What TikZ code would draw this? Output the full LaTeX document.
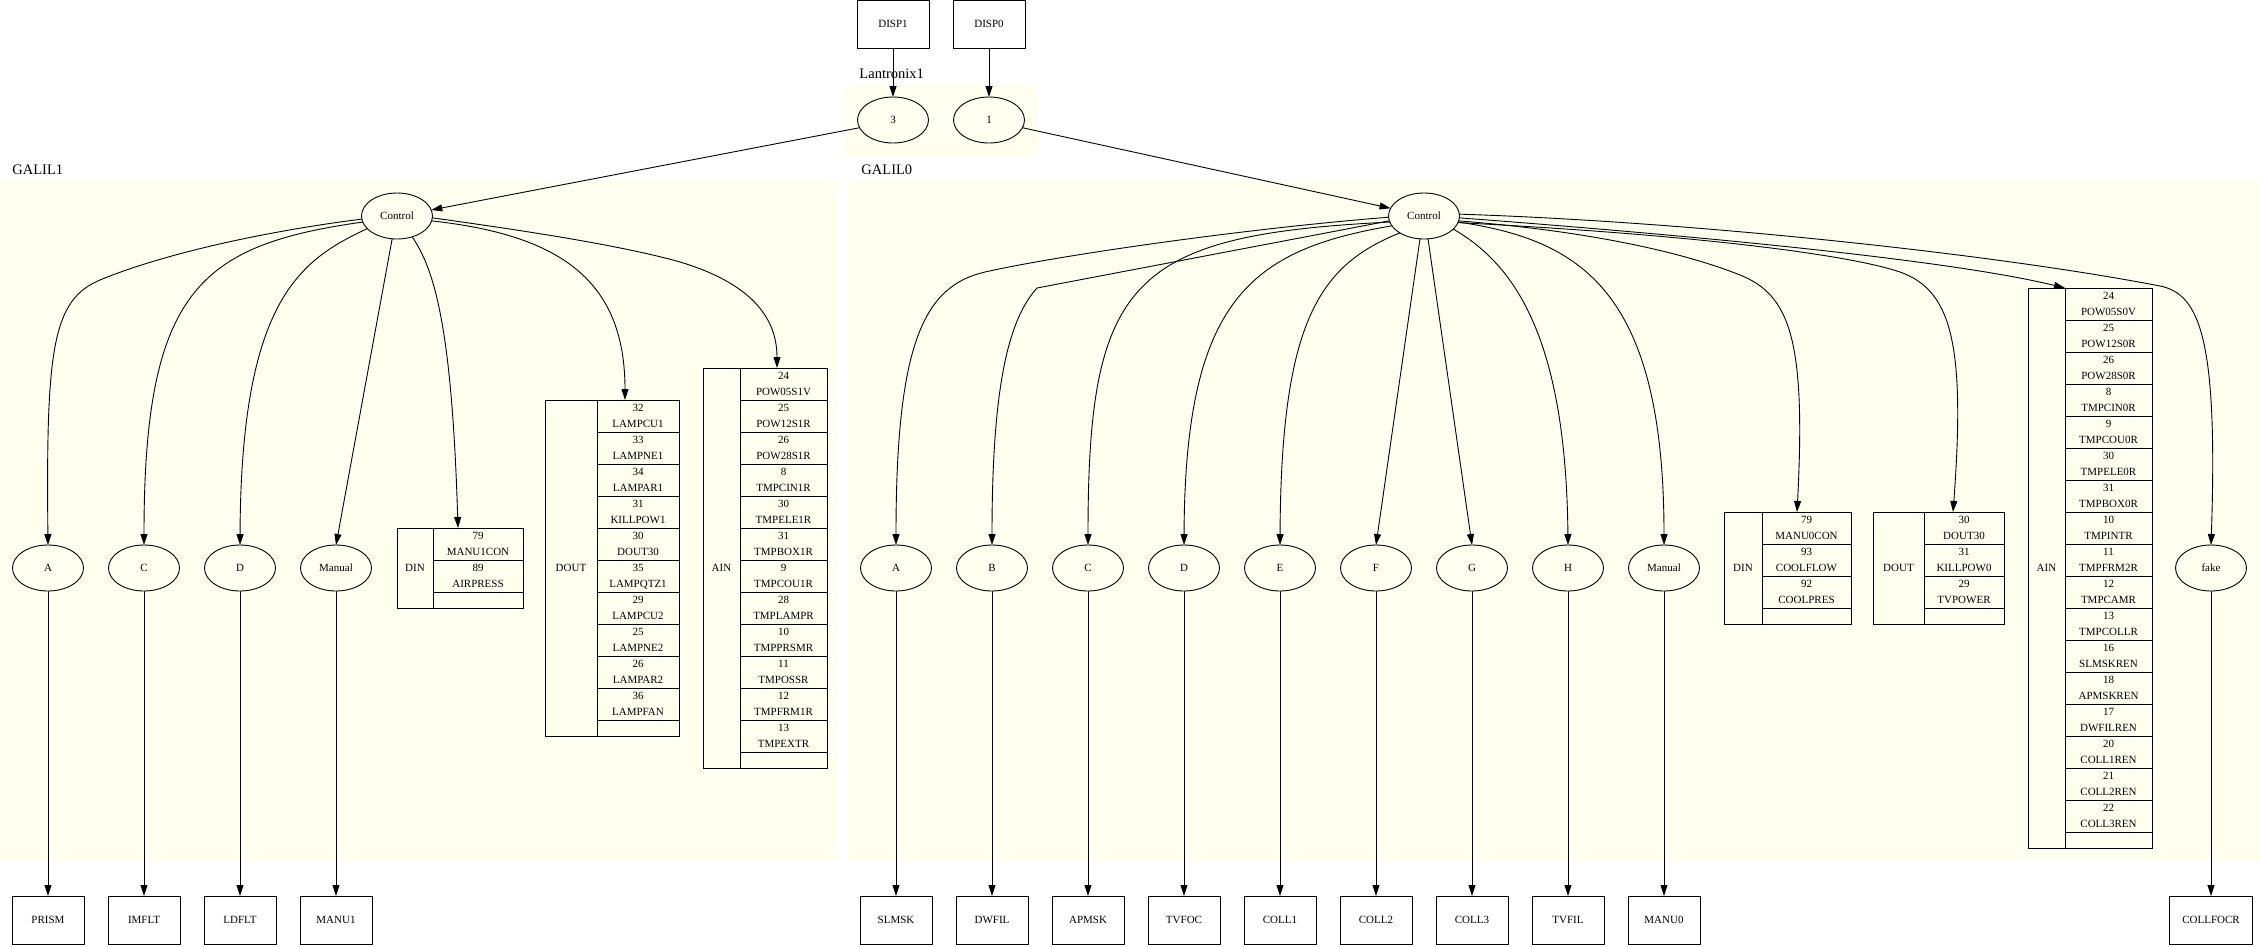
\documentclass[tikz,border=0pt]{standalone}
\usepackage{fontspec}
\setmainfont{Liberation Serif}
\usetikzlibrary{shapes,positioning,calc,arrows.meta}
\definecolor{clusterbg}{HTML}{FFFFF0}
% one field of a record: number over signal name (31.1pt + divider = 32pt)
\newcommand{\ioline}[2]{\rule{0pt}{10.75pt}#1\\#2\rule[-4.35pt]{0pt}{4.35pt}}
\newcommand{\iospare}{\rule{0pt}{15.1pt}}

\begin{document}
\begin{tikzpicture}[
      x=1pt, y=-1pt, line width=0.9pt,
      font=\fontsize{11}{16}\selectfont,
      >={Triangle[length=11pt,width=7pt]},
      cluster/.style={fill=clusterbg},
      clusterlabel/.style={anchor=base west, inner sep=0pt, font=\fontsize{14.5}{17}\selectfont},
      port/.style={draw, ellipse, minimum width=71pt, minimum height=46pt, inner sep=0pt, outer sep=0pt},
      unit/.style={draw, rectangle, minimum width=72pt, minimum height=48pt, inner sep=0pt, outer sep=0pt},
      reclabel/.style={draw, rectangle, inner sep=0pt, outer sep=0pt},
      record/.style={draw, rectangle split, rectangle split parts=#1, anchor=north west,
        align=center, inner xsep=0pt, inner ysep=0pt, outer sep=0pt}
      ]

      \path[use as bounding box] (0,0) rectangle (2260,946);

      % clusters
      \path[cluster] (845,84) rectangle (1038,157);
      \path[cluster] (0,180) rectangle (837,861);
      \path[cluster] (848,180) rectangle (2260,861);
      \node[clusterlabel] (lantronix-label) at (859,78) {Lantronix1};
      \node[clusterlabel] (galil1-label) at (12,174) {GALIL1};
      \node[clusterlabel] (galil0-label) at (861,174) {GALIL0};

      \node[port] (l3) at (893,120) {3};
      \path node[port,right=25pt of l3] (l1) {1};
      \path node[unit,above=49pt of l3] (disp1) {DISP1};
      \path node[unit,above=49pt of l1] (disp0) {DISP0};
      \path[draw,->] (disp1) -- (l3);
      \path[draw,->] (disp0) -- (l1);

      \node[port] (ctrl1) at (397,216) {Control};
      \node[port] (ctrl0) at (1424,216) {Control};
      \path[draw,->] (l3.193) -- (ctrl1.10);
      \path[draw,->] (l1.347) -- (ctrl0.167);

      % GALIL1
      \node[port] (a1) at (48,568) {A};
      \path node[port,right=25pt of a1] (c1) {C};
      \path node[port,right=25pt of c1] (d1) {D};
      \path node[port,right=25pt of d1] (manual1) {Manual};

      \node[reclabel,minimum width=36pt,minimum height=80pt] (din1lab) at (415,568) {DIN};
      \node[record=3,text width=90pt] (din1) at (din1lab.north east)
        {\ioline{79}{MANU1CON} \nodepart{two} \ioline{89}{AIRPRESS} \nodepart{three} \iospare};

      \node[reclabel,minimum width=52pt,minimum height=336pt] (dout1lab) at (571,568) {DOUT};
      \node[record=11,text width=82pt] (dout1) at (dout1lab.north east)
        {\ioline{32}{LAMPCU1} \nodepart{two} \ioline{33}{LAMPNE1}
         \nodepart{three} \ioline{34}{LAMPAR1} \nodepart{four} \ioline{31}{KILLPOW1}
         \nodepart{five} \ioline{30}{DOUT30} \nodepart{six} \ioline{35}{LAMPQTZ1}
         \nodepart{seven} \ioline{29}{LAMPCU2} \nodepart{eight} \ioline{25}{LAMPNE2}
         \nodepart{nine} \ioline{26}{LAMPAR2} \nodepart{ten} \ioline{36}{LAMPFAN}
         \nodepart{eleven} \iospare};

      \node[reclabel,minimum width=37pt,minimum height=400pt] (ain1lab) at (721.5,568) {AIN};
      \node[record=13,text width=87pt] (ain1) at (ain1lab.north east)
        {\ioline{24}{POW05S1V} \nodepart{two} \ioline{25}{POW12S1R}
         \nodepart{three} \ioline{26}{POW28S1R} \nodepart{four} \ioline{8}{TMPCIN1R}
         \nodepart{five} \ioline{30}{TMPELE1R} \nodepart{six} \ioline{31}{TMPBOX1R}
         \nodepart{seven} \ioline{9}{TMPCOU1R} \nodepart{eight} \ioline{28}{TMPLAMPR}
         \nodepart{nine} \ioline{10}{TMPPRSMR} \nodepart{ten} \ioline{11}{TMPOSSR}
         \nodepart{eleven} \ioline{12}{TMPFRM1R} \nodepart{twelve} \ioline{13}{TMPEXTR}
         \nodepart{thirteen} \iospare};

      \path[draw,->] (ctrl1.185) .. controls (260,232) and (160,255) .. (100,280)
        .. controls (52,300) and (46,350) .. (a1.north);
      \path[draw,->] (ctrl1.190) .. controls (200,245) and (144,290) .. (c1.north);
      \path[draw,->] (ctrl1.203) .. controls (300,260) and (241,300) .. (d1.north);
      \path[draw,->] (ctrl1.258) -- (manual1.north);
      \path[draw,->] (ctrl1.306) .. controls (435,270) and (452,330) .. ($(din1.north west)+(25,0)$);
      \path[draw,->] (ctrl1.352) .. controls (560,235) and (625,280) .. ($(dout1.north west)+(28,0)$);
      \path[draw,->] (ctrl1.357) .. controls (520,230) and (620,245) .. (680,262)
        .. controls (740,280) and (777,310) .. ($(ain1.north west)+(37,0)$);

      \path node[unit,below=305pt of a1] (prism) {PRISM};
      \path node[unit,below=305pt of c1] (imflt) {IMFLT};
      \path node[unit,below=305pt of d1] (ldflt) {LDFLT};
      \path node[unit,below=305pt of manual1] (manu1) {MANU1};
      \path[draw,->] (a1) -- (prism);
      \path[draw,->] (c1) -- (imflt);
      \path[draw,->] (d1) -- (ldflt);
      \path[draw,->] (manual1) -- (manu1);

      % GALIL0
      \node[port] (a0) at (896,568) {A};
      \path node[port,right=25pt of a0] (b0) {B};
      \path node[port,right=25pt of b0] (c0) {C};
      \path node[port,right=25pt of c0] (d0) {D};
      \path node[port,right=25pt of d0] (e0) {E};
      \path node[port,right=25pt of e0] (f0) {F};
      \path node[port,right=25pt of f0] (g0) {G};
      \path node[port,right=25pt of g0] (h0) {H};
      \path node[port,right=25pt of h0] (manual0) {Manual};
      \node[port] (fake) at (2211,568) {fake};

      \node[reclabel,minimum width=38pt,minimum height=112pt] (din0lab) at (1743,568) {DIN};
      \node[record=4,text width=89pt] (din0) at (din0lab.north east)
        {\ioline{79}{MANU0CON} \nodepart{two} \ioline{93}{COOLFLOW}
         \nodepart{three} \ioline{92}{COOLPRES} \nodepart{four} \iospare};

      \node[reclabel,minimum width=51pt,minimum height=112pt] (dout0lab) at (1898.5,568) {DOUT};
      \node[record=4,text width=80pt] (dout0) at (dout0lab.north east)
        {\ioline{30}{DOUT30} \nodepart{two} \ioline{31}{KILLPOW0}
         \nodepart{three} \ioline{29}{TVPOWER} \nodepart{four} \iospare};

      \node[reclabel,minimum width=37pt,minimum height=560pt] (ain0lab) at (2046.5,568) {AIN};
      \node[record=18,text width=87pt] (ain0) at (ain0lab.north east)
        {\ioline{24}{POW05S0V} \nodepart{two} \ioline{25}{POW12S0R}
         \nodepart{three} \ioline{26}{POW28S0R} \nodepart{four} \ioline{8}{TMPCIN0R}
         \nodepart{five} \ioline{9}{TMPCOU0R} \nodepart{six} \ioline{30}{TMPELE0R}
         \nodepart{seven} \ioline{31}{TMPBOX0R} \nodepart{eight} \ioline{10}{TMPINTR}
         \nodepart{nine} \ioline{11}{TMPFRM2R} \nodepart{ten} \ioline{12}{TMPCAMR}
         \nodepart{eleven} \ioline{13}{TMPCOLLR} \nodepart{twelve} \ioline{16}{SLMSKREN}
         \nodepart{thirteen} \ioline{18}{APMSKREN} \nodepart{fourteen} \ioline{17}{DWFILREN}
         \nodepart{fifteen} \ioline{20}{COLL1REN} \nodepart{sixteen} \ioline{21}{COLL2REN}
         \nodepart{seventeen} \ioline{22}{COLL3REN} \nodepart{eighteen} \iospare};

      \path[draw,->] (ctrl0.182) .. controls (1250,228) and (1060,255) .. (985,272)
        .. controls (925,286) and (896,340) .. (a0.north);
      \path[draw,->] (ctrl0.188) -- (1037,288) .. controls (1010,318) and (992,380) .. (b0.north);
      \path[draw,->] (ctrl0.190) .. controls (1130,235) and (1088,280) .. (c0.north);
      \path[draw,->] (ctrl0.197) .. controls (1250,250) and (1185,300) .. (d0.north);
      \path[draw,->] (ctrl0.215) .. controls (1320,265) and (1281,320) .. (e0.north);
      \path[draw,->] (ctrl0.260) -- (f0.north);
      \path[draw,->] (ctrl0.280) -- (g0.north);
      \path[draw,->] (ctrl0.336) .. controls (1510,262) and (1566,330) .. (h0.north);
      \path[draw,->] (ctrl0.350) .. controls (1580,240) and (1664,290) .. (manual0.north);
      \path[draw,->] (ctrl0.352) .. controls (1600,232) and (1690,255) .. (1740,275)
        .. controls (1790,295) and (1806,340) .. ($(din0.north west)+(35,0)$);
      \path[draw,->] (ctrl0.349) .. controls (1700,235) and (1850,255) .. (1900,272)
        .. controls (1950,290) and (1966,340) .. ($(dout0.north west)+(29,0)$);
      \path[draw,->] (ctrl0.357) .. controls (1700,236) and (1950,260) .. (ain0.north west);
      \path[draw,->] (ctrl0.3) .. controls (1700,222) and (2000,255) .. (2160,286)
        .. controls (2200,294) and (2218,340) .. (fake.north);

      \path node[unit,below=305pt of a0] (slmsk) {SLMSK};
      \path node[unit,below=305pt of b0] (dwfil) {DWFIL};
      \path node[unit,below=305pt of c0] (apmsk) {APMSK};
      \path node[unit,below=305pt of d0] (tvfoc) {TVFOC};
      \path node[unit,below=305pt of e0] (coll1) {COLL1};
      \path node[unit,below=305pt of f0] (coll2) {COLL2};
      \path node[unit,below=305pt of g0] (coll3) {COLL3};
      \path node[unit,below=305pt of h0] (tvfil) {TVFIL};
      \path node[unit,below=305pt of manual0] (manu0) {MANU0};
      \path node[unit,minimum width=83pt,below=305pt of fake] (collfocr) {COLLFOCR};
      \path[draw,->] (a0) -- (slmsk);
      \path[draw,->] (b0) -- (dwfil);
      \path[draw,->] (c0) -- (apmsk);
      \path[draw,->] (d0) -- (tvfoc);
      \path[draw,->] (e0) -- (coll1);
      \path[draw,->] (f0) -- (coll2);
      \path[draw,->] (g0) -- (coll3);
      \path[draw,->] (h0) -- (tvfil);
      \path[draw,->] (manual0) -- (manu0);
      \path[draw,->] (fake) -- (collfocr);
    \end{tikzpicture}
\end{document}
